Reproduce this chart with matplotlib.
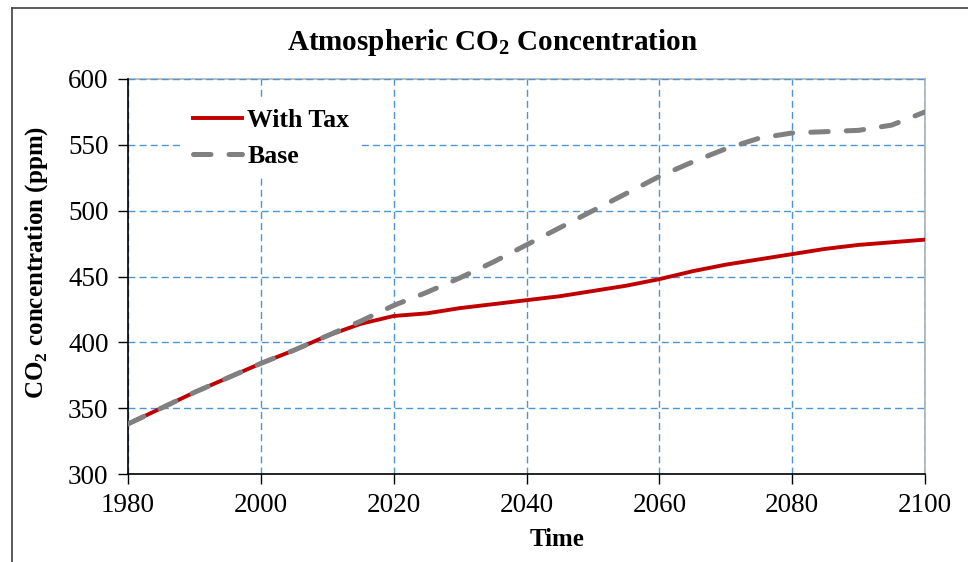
import matplotlib
matplotlib.use("Agg")
import matplotlib.pyplot as plt
from matplotlib.lines import Line2D

plt.rcParams['font.family'] = ['Liberation Serif', 'DejaVu Serif']
plt.rcParams['mathtext.fontset'] = 'custom'
plt.rcParams['mathtext.rm'] = 'Liberation Serif'
plt.rcParams['mathtext.bf'] = 'Liberation Serif:bold'

years = [1980, 1985, 1990, 1995, 2000, 2005, 2010, 2015, 2020, 2025, 2030, 2035,
         2040, 2045, 2050, 2055, 2060, 2065, 2070, 2075, 2080, 2085, 2090, 2095, 2100]
with_tax = [338, 350, 362, 373, 384, 394, 405, 414, 420, 422, 426, 429,
            432, 435, 439, 443, 448, 454, 459, 463, 467, 471, 474, 476, 478]
base = [338, 350, 362, 373, 384, 394, 405, 416, 428, 438, 449, 461,
        474, 487, 500, 513, 526, 537, 547, 555, 559, 560, 561, 565, 575]

W, H = 968, 562
fig = plt.figure(figsize=(W / 100, H / 100), dpi=100)
ax = fig.add_axes([128 / W, 1 - 474 / H, (925 - 128) / W, (474 - 79) / H])

ax.plot(years, with_tax, color='#C00000', lw=2.8, label='With Tax', zorder=3)
ax.plot(years, base, color='#808080', lw=3.6, dashes=(3.5, 3.6),
        dash_capstyle='round', label='Base', zorder=4)

ax.set_xlim(1980, 2100)
ax.set_ylim(300, 600)
ax.set_xticks(range(1980, 2101, 20))
ax.set_yticks(range(300, 601, 50))
ax.tick_params(labelsize=19.5, length=7, width=1, direction='out', pad=7)
ax.grid(True, color='#4d94d6', linestyle=(0, (5, 3)), lw=1, zorder=0)
ax.set_axisbelow(True)

for s in ['left', 'bottom']:
    ax.spines[s].set_color('black')
    ax.spines[s].set_linewidth(1.2)
for s in ['top', 'right']:
    ax.spines[s].set_color('#b0b0b0')
    ax.spines[s].set_linewidth(1.2)
    ax.spines[s].set_zorder(0)

ax.set_xlabel('Time', fontsize=18, fontweight='bold')
ax.xaxis.set_label_coords((557 - 128) / 797, (474 - 528) / 395)
ax.set_ylabel(r'CO$_\mathbf{2}$ concentration (ppm)', fontsize=18, fontweight='bold')
ax.yaxis.set_label_coords((50 - 128) / 797, (474 - 262) / 395)

fig.text(492 / W, 1 - 42 / H, r'Atmospheric CO$_\mathbf{2}$ Concentration',
         fontsize=21, fontweight='bold', ha='center', va='center')

leg = ax.legend(loc='upper left', bbox_to_anchor=((183 - 128) / 797, (474 - 99) / 395),
                prop={'size': 18.5, 'weight': 'bold'}, frameon=True, fancybox=False,
                edgecolor='none', facecolor='white', framealpha=1,
                handlelength=1.9, handletextpad=0.2, labelspacing=0.5,
                borderpad=0.4, borderaxespad=0)
leg.set_zorder(5)

# outer chart-area frame (cut off at right and bottom)
fig.add_artist(Line2D([12 / W, 12 / W], [0, 1 - 8 / H], color='#404040', lw=1.2))
fig.add_artist(Line2D([12 / W, 1], [1 - 8 / H, 1 - 8 / H], color='#404040', lw=1.2))

fig.savefig('out.png', dpi=100)
